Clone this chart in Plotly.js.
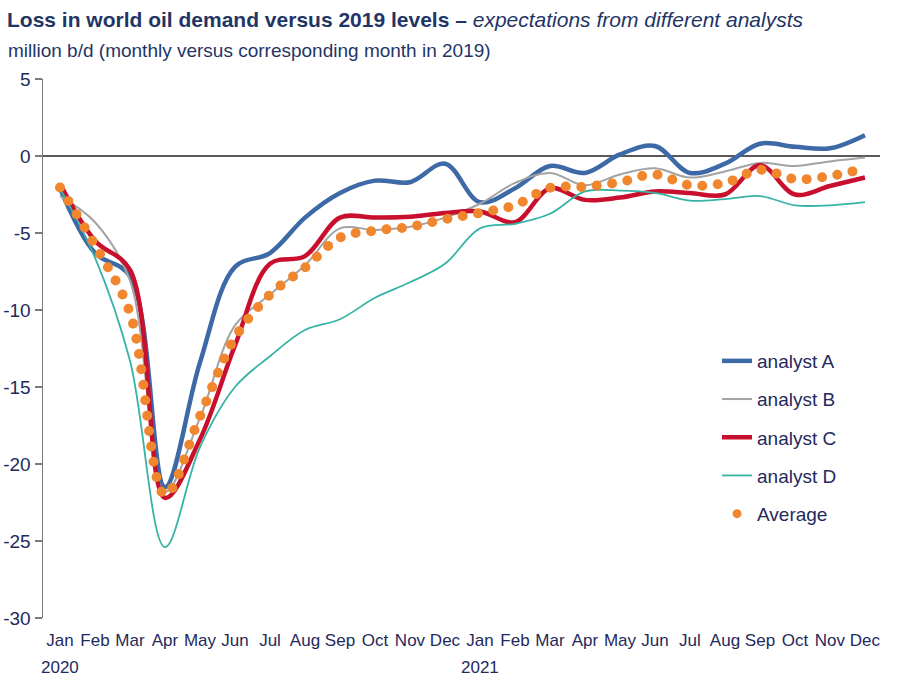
<!DOCTYPE html>
<html>
<head>
<meta charset="utf-8">
<script src="https://cdn.plot.ly/plotly-3.0.1.min.js"></script>
<style>
html, body { margin: 0; padding: 0; background: #fff; }
#chart { width: 900px; height: 700px; }
</style>
</head>
<body>
<div id="chart"></div>
<script>
// ---- data (million b/d vs. the corresponding month in 2019) ----
const monthLabels = ["Jan","Feb","Mar","Apr","May","Jun","Jul","Aug","Sep","Oct","Nov","Dec",
                     "Jan","Feb","Mar","Apr","May","Jun","Jul","Aug","Sep","Oct","Nov","Dec"];
const yearLabels  = ["2020","2021"];
const yearStartIndex = [0, 12];
const monthIndex  = [0,1,2,3,4,5,6,7,8,9,10,11,12,13,14,15,16,17,18,19,20,21,22,23];

const seriesNames = ["analyst A","analyst B","analyst C","analyst D","Average"];

const analystA = [-2.1,-6.3,-7.8,-21.5,-13.4,-7.2,-6.3,-4.0,-2.4,-1.6,-1.7,-0.5,
                  -3.0,-2.1,-0.65,-1.1,0.1,0.65,-1.1,-0.5,0.8,0.6,0.5,1.35];
const analystB = [-2.6,-4.3,-8.1,-21.8,-17.0,-11.0,-9.0,-7.1,-4.7,-4.8,-4.6,-4.0,
                  -3.1,-1.75,-1.1,-1.9,-1.2,-0.8,-1.4,-1.0,-0.45,-0.65,-0.35,-0.1];
const analystC = [-1.8,-5.5,-7.4,-22.2,-18.4,-12.3,-7.0,-6.5,-4.0,-4.0,-3.95,-3.7,
                  -3.6,-4.3,-2.1,-2.85,-2.7,-2.3,-2.4,-2.5,-0.6,-2.5,-1.95,-1.4];
const analystD = [-2.1,-6.6,-13.3,-25.4,-18.9,-15.0,-13.0,-11.3,-10.6,-9.2,-8.2,-7.0,
                  -4.7,-4.4,-3.75,-2.3,-2.25,-2.4,-2.9,-2.8,-2.6,-3.2,-3.2,-3.0];
const average  = [-2.05,-5.8,-10.2,-22.0,-16.9,-11.8,-9.0,-7.25,-5.3,-4.85,-4.6,-4.1,
                  -3.7,-3.2,-2.07,-2.0,-1.7,-1.2,-1.9,-1.75,-0.9,-1.5,-1.3,-0.8];

const yTickVals   = [5,0,-5,-10,-15,-20,-25,-30];
const yTickLabels = ["5","0","-5","-10","-15","-20","-25","-30"];

// ---- styling ----
const navy = "#1F2A5C";
const fontFam = "'Liberation Sans Narrow', 'Liberation Sans', Arial, sans-serif";
const colors = ["#3D69A6","#A3A3A3","#C8102E","#36B3A4","#F0862E"];
const widths = [4.5, 2, 4.5, 1.8, 10];

const allSeries = [analystA, analystB, analystC, analystD, average];

const traces = allSeries.map((vals, k) => ({
  type: "scatter",
  mode: "lines",
  x: monthIndex,
  y: vals,
  name: seriesNames[k],
  legendgroup: "g" + k,
  showlegend: k < 4,
  line: {
    color: colors[k],
    width: widths[k],
    shape: "spline",
    smoothing: 1,
    dash: k === 4 ? "0px,15.5px" : "solid"
  },
  hoverinfo: "skip"
}));
// legend entry for the dotted average (single dot, like the reference)
traces.push({
  type: "scatter",
  mode: "markers",
  x: [null],
  y: [null],
  name: seriesNames[4],
  legendgroup: "g4",
  showlegend: true,
  marker: { color: colors[4], size: 9 },
  hoverinfo: "skip"
});

const yearAnnotations = yearLabels.map((t, i) => ({
  text: t,
  xref: "x", yref: "paper",
  x: yearStartIndex[i], xanchor: "center",
  y: -(667 - 618) / 539, yanchor: "middle",
  showarrow: false,
  font: { family: fontFam, size: 17, color: navy }
}));

const layout = {
  width: 900,
  height: 700,
  paper_bgcolor: "#ffffff",
  plot_bgcolor: "#ffffff",
  margin: { l: 43, r: 20, t: 79, b: 82 },
  font: { family: fontFam, color: navy, size: 18 },
  title: {
    text: "<b>Loss in world oil demand versus 2019 levels – </b><i>expectations from different analysts</i>",
    xref: "container", yref: "container",
    x: 7 / 900, xanchor: "left",
    y: 1 - 20 / 700, yanchor: "middle",
    font: { family: fontFam, size: 21, color: "#1F3566" }
  },
  annotations: [{
    text: "million b/d (monthly versus corresponding month in 2019)",
    xref: "paper", yref: "paper",
    x: (6 - 43) / 837, xanchor: "left",
    y: 1 + (79 - 50) / 539, yanchor: "middle",
    showarrow: false,
    font: { family: fontFam, size: 19, color: "#1F3566" }
  }].concat(yearAnnotations),
  xaxis: {
    range: [-0.486, 23.43],
    tickmode: "array",
    tickvals: monthIndex,
    ticktext: monthLabels,
    showline: false,
    zeroline: false,
    showgrid: false,
    ticks: "",
    ticklabelstandoff: 10,
    tickfont: { family: fontFam, size: 17, color: navy },
    tickangle: 0,
    fixedrange: true
  },
  yaxis: {
    range: [-30, 5],
    tickmode: "array",
    tickvals: yTickVals,
    ticktext: yTickLabels,
    showline: true,
    linecolor: "#7A7A7A",
    linewidth: 1.5,
    ticks: "outside",
    ticklen: 7,
    tickwidth: 1.5,
    tickcolor: "#7A7A7A",
    showgrid: false,
    zeroline: true,
    zerolinecolor: "#595959",
    zerolinewidth: 2,
    tickfont: { family: fontFam, size: 19, color: navy },
    fixedrange: true
  },
  showlegend: true,
  legend: {
    x: (717 - 43) / 837,
    xanchor: "left",
    y: (618 - 342) / 539,
    yanchor: "top",
    traceorder: "grouped",
    tracegroupgap: 10.5,
    bgcolor: "rgba(0,0,0,0)",
    font: { family: fontFam, size: 19, color: navy }
  }
};

Plotly.newPlot("chart", traces, layout, { staticPlot: true, displayModeBar: false }).then(() => {
  const tr = document.querySelectorAll(".scatterlayer .trace");
  if (tr[4]) {
    tr[4].querySelectorAll("path.js-line").forEach(p => {
      p.style.strokeLinecap = "round";
    });
  }
});
</script>
</body>
</html>
